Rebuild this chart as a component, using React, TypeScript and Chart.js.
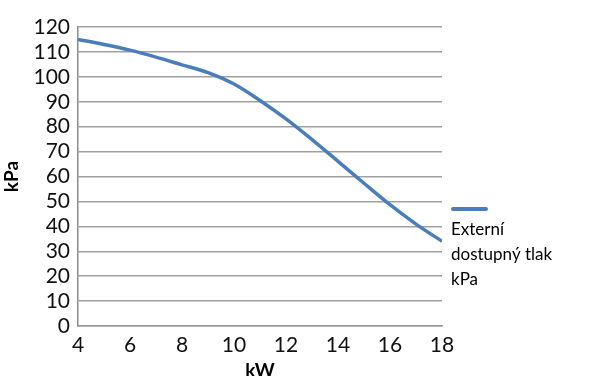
import React, { useEffect, useRef } from "react";
import { Chart, registerables } from "chart.js";

Chart.register(...registerables);

const kW = [4, 5, 6, 7, 8, 9, 10, 11, 12, 13, 14, 15, 16, 17, 18];
const kPa = [115, 113, 110.7, 107.9, 104.8, 101.7, 97.1, 90.5, 83.1, 74.8, 66.1, 57.3, 48.7, 40.9, 34];
const legendLines = ["Externí", "dostupný tlak", "kPa"];
const xTitle = "kW";
const yTitle = "kPa";

const FONT = "Lato, 'Open Sans', sans-serif";
const BLUE = "#4a7ebb";

const legendPlugin = {
  id: "customLegend",
  afterDraw(chart: any) {
    const { ctx, chartArea } = chart;
    const x = chartArea.right + 9;
    const top = chartArea.top;
    ctx.save();
    ctx.strokeStyle = BLUE;
    ctx.lineWidth = 4;
    ctx.lineCap = "round";
    ctx.beginPath();
    ctx.moveTo(x + 2, top + 182);
    ctx.lineTo(x + 35, top + 182);
    ctx.stroke();
    ctx.fillStyle = "#000";
    ctx.font = `17px ${FONT}`;
    ctx.textBaseline = "middle";
    ctx.textAlign = "left";
    legendLines.forEach((t, i) => {
      ctx.fillText(t, x, top + 203 + i * 25);
    });
    ctx.restore();
  },
};

export default function App() {
  const ref = useRef<HTMLCanvasElement>(null);
  useEffect(() => {
    document.body.style.margin = "0";
    const chart = new Chart(ref.current as HTMLCanvasElement, {
      type: "line",
      data: {
        datasets: [
          {
            label: legendLines.join(" "),
            data: kW.map((x, i) => ({ x, y: kPa[i] })),
            borderColor: BLUE,
            borderWidth: 3.5,
            pointRadius: 0,
            cubicInterpolationMode: "monotone",
            fill: false,
          },
        ],
      },
      options: {
        animation: false,
        responsive: false,
        layout: { padding: { top: 27, right: 174, left: 0, bottom: 0 } },
        plugins: { legend: { display: false }, tooltip: { enabled: false } },
        scales: {
          x: {
            type: "linear",
            min: 4,
            max: 18,
            ticks: {
              stepSize: 2,
              autoSkip: false,
              maxRotation: 0,
              color: "#111",
              font: { family: FONT, size: 21 },
              padding: 7,
            },
            grid: { display: false, drawTicks: false },
            border: { display: true, color: "#9a9a9a", width: 1.5 },
            title: {
              display: true,
              text: xTitle,
              color: "#000",
              font: { family: FONT, size: 19, weight: "bold" },
              padding: { top: 0, bottom: -6 },
            },
            afterFit(scale: any) {
              scale.height = 50;
            },
          },
          y: {
            min: 0,
            max: 120,
            ticks: {
              stepSize: 10,
              autoSkip: false,
              color: "#111",
              font: { family: FONT, size: 21 },
              padding: 8,
            },
            grid: { color: "#a0a0a0", lineWidth: 1.5, drawTicks: false },
            border: { display: true, color: "#8c8c8c", width: 1.5 },
            title: {
              display: true,
              text: yTitle,
              color: "#000",
              font: { family: FONT, size: 19, weight: "bold" },
              padding: { top: 0, bottom: 0 },
            },
            afterFit(scale: any) {
              scale.width = 78;
            },
          },
        },
      },
      plugins: [legendPlugin],
    } as any);
    return () => chart.destroy();
  }, []);
  return (
    <div style={{ width: 616, height: 376 }}>
      <canvas ref={ref} width={616} height={376} style={{ display: "block" }} />
    </div>
  );
}
